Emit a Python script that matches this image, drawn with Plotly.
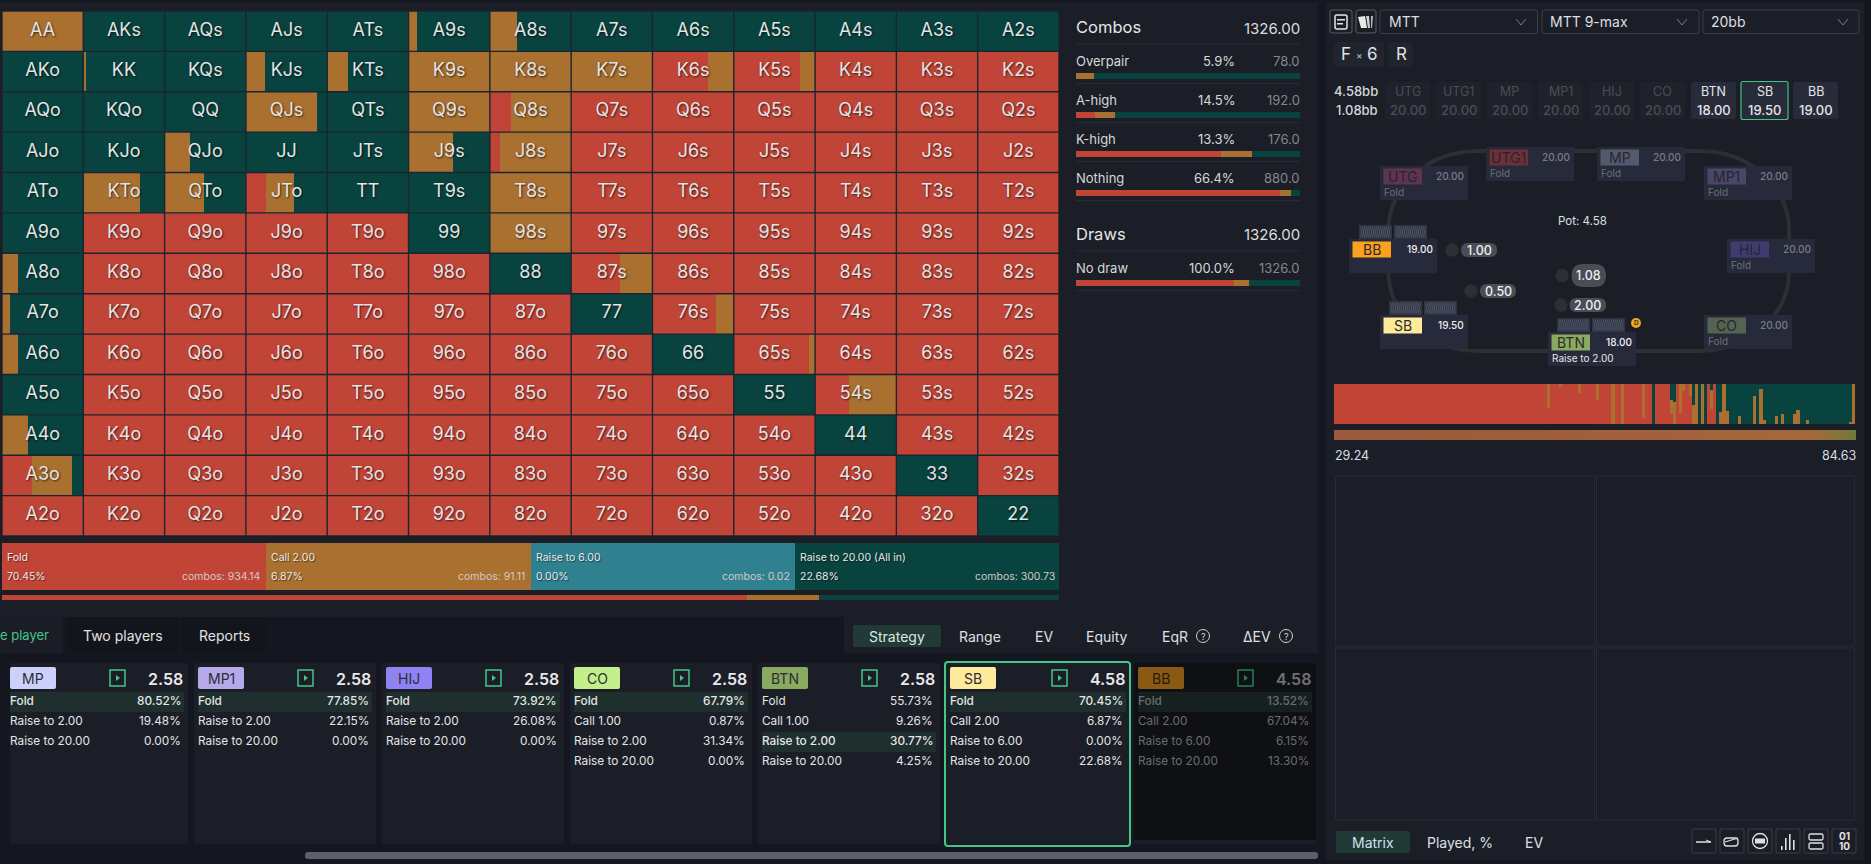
import numpy as np
import plotly.graph_objects as go

W, H = 1871, 864
FONT = "Inter"

# ------------------------------------------------------------------ data
RANKS = ["A", "K", "Q", "J", "T", "9", "8", "7", "6", "5", "4", "3", "2"]

MATRIX_FOLD = [
    [0, 0, 0, 0, 0, 0, 0, 0, 0, 0, 0, 0, 0],
    [0, 0, 0, 0, 0, 0, 0, 0, .68, .82, 1, 1, 1],
    [0, 0, 0, 0, 0, 0, .255, 1, 1, 1, 1, 1, 1],
    [0, 0, 0, 0, 0, 0, .13, 1, 1, 1, 1, 1, 1],
    [0, 0, 0, .245, 0, 0, 0, 1, 1, 1, 1, 1, 1],
    [0, 1, 1, 1, 1, 0, 0, 1, 1, 1, 1, 1, 1],
    [0, 1, 1, 1, 1, 1, 0, .60, 1, 1, 1, 1, 1],
    [0, 1, 1, 1, 1, 1, 1, 0, .78, 1, 1, 1, 1],
    [0, 1, 1, 1, 1, 1, 1, 1, 0, .925, 1, 1, 1],
    [0, 1, 1, 1, 1, 1, 1, 1, 1, 0, .42, 1, 1],
    [0, 1, 1, 1, 1, 1, 1, 1, 1, 1, 0, 1, 1],
    [.37, 1, 1, 1, 1, 1, 1, 1, 1, 1, 1, 0, 1],
    [1, 1, 1, 1, 1, 1, 1, 1, 1, 1, 1, 1, 0],
]
MATRIX_CALL = [
    [1, 0, 0, 0, 0, .11, .33, 0, 0, 0, 0, 0, 0],
    [0, .035, 0, .235, .26, 1, 1, 1, .32, .18, 0, 0, 0],
    [0, 0, 0, .87, 0, 1, .745, 0, 0, 0, 0, 0, 0],
    [0, 0, .315, 0, 0, .55, .87, 0, 0, 0, 0, 0, 0],
    [0, .70, .48, .345, 0, 0, 1, 0, 0, 0, 0, 0, 0],
    [0, 0, 0, 0, 0, 0, 1, 0, 0, 0, 0, 0, 0],
    [.20, 0, 0, 0, 0, 0, 0, .40, 0, 0, 0, 0, 0],
    [.10, 0, 0, 0, 0, 0, 0, 0, .22, 0, 0, 0, 0],
    [.20, 0, 0, 0, 0, 0, 0, 0, 0, .075, 0, 0, 0],
    [0, 0, 0, 0, 0, 0, 0, 0, 0, 0, .58, 0, 0],
    [.315, 0, 0, 0, 0, 0, 0, 0, 0, 0, 0, 0, 0],
    [.49, 0, 0, 0, 0, 0, 0, 0, 0, 0, 0, 0, 0],
    [0, 0, 0, 0, 0, 0, 0, 0, 0, 0, 0, 0, 0],
]

ACTION_NAMES = ["Fold", "Call 2.00", "Raise to 6.00", "Raise to 20.00 (All in)"]
ACTION_PCT = [70.45, 6.87, 0.00, 22.68]
ACTION_COMBOS = [934.14, 91.11, 0.02, 300.73]

COMBO_NAMES = ["Overpair", "A-high", "K-high", "Nothing"]
COMBO_PCT = ["5.9%", "14.5%", "13.3%", "66.4%"]
COMBO_N = ["78.0", "192.0", "176.0", "880.0"]
COMBO_FOLD = [0, .084, .647, .911]
COMBO_CALL = [.08, .091, .139, .05]
COMBO_ALLIN = [.92, .825, .214, .039]
DRAW_FOLD = [.7045]
DRAW_CALL = [.0687]
DRAW_ALLIN = [.2268]

DIST_CALL = ([0] * 69 + [.6] + [0] * 3 + [.075] + [0] * 5 + [.225] + [0] * 5 + [.4] + [0] * 4 + [1] + [0] * 2 + [1]
             + [0] * 6 + [.85] + [0] * 8
             + [.35, .55, 0, .725, .175, 0, .3, .475, 1, 0, 1, 0, 0, .475, 0, 0, .3, 1, .325, 0, 0, 0, .2, 0, 0, 0, 0,
                .7, 0, .875, .1, 0, 0, 0, .2, 0, .25, 0, 0, 0, .25, .35, 0, 0, .1]
             + [0] * 13 + [.05, 1])
DIST_ALLIN = ([0] * 103 + [1] + [0] * 5 + [.4, .45] + [0] * 5
              + [.525, 0, 1, 0, 1, 0, .15, 0, 1, .7, 0, .675]
              + [1, 1, 1, .8, 1, 1, 1, 1, .3, 1, .125, .9, 1, 1, 1, .8, 1, .75, 1, 1, 1, .75, .65, 1, 1, .9]
              + [1] * 13 + [.95, 0])
DIST_FOLD = [round(max(0, 1 - c - a), 4) for c, a in zip(DIST_CALL, DIST_ALLIN)]

PLAYER_NAMES = ["MP", "MP1", "HIJ", "CO", "BTN", "SB", "BB"]
PLAYER_POTS = ["2.58", "2.58", "2.58", "2.58", "2.58", "4.58", "4.58"]
PLAYER_ACTIONS = [
    ["Fold", "Raise to 2.00", "Raise to 20.00"],
    ["Fold", "Raise to 2.00", "Raise to 20.00"],
    ["Fold", "Raise to 2.00", "Raise to 20.00"],
    ["Fold", "Call 1.00", "Raise to 2.00", "Raise to 20.00"],
    ["Fold", "Call 1.00", "Raise to 2.00", "Raise to 20.00"],
    ["Fold", "Call 2.00", "Raise to 6.00", "Raise to 20.00"],
    ["Fold", "Call 2.00", "Raise to 6.00", "Raise to 20.00"],
]
PLAYER_PCTS = [
    ["80.52%", "19.48%", "0.00%"],
    ["77.85%", "22.15%", "0.00%"],
    ["73.92%", "26.08%", "0.00%"],
    ["67.79%", "0.87%", "31.34%", "0.00%"],
    ["55.73%", "9.26%", "30.77%", "4.25%"],
    ["70.45%", "6.87%", "0.00%", "22.68%"],
    ["13.52%", "67.04%", "6.15%", "13.30%"],
]
PLAYER_PICK = [0, 0, 0, 0, 2, 0, 0]

SEAT_NAMES = ["UTG", "UTG1", "MP", "MP1", "HIJ", "CO", "BTN", "SB", "BB"]
SEAT_STACKS = ["20.00", "20.00", "20.00", "20.00", "20.00", "20.00", "18.00", "19.50", "19.00"]
SEAT_ACTIONS = ["Fold", "Fold", "Fold", "Fold", "Fold", "Fold", "Raise to 2.00", "", ""]

# ------------------------------------------------------------------ style
BASE = "#14171f"
PANEL = "#1b1e27"
RED = "#c04537"
AMBER = "#a97030"
TEAL = "#2f8190"
GREEN = "#08433f"
MINT = "#43c787"
SEL = "#213a35"

shapes, annos = [], []


def X(p):
    return p / W


def Y(p):
    return 1 - p / H


def dx(a, b):
    return [a / W, b / W]


def dy(a, b):
    return [1 - b / H, 1 - a / H]


def rect(x0, y0, x1, y1, fill=None, line=None, lw=1, r=0, layer="below"):
    if r:
        p = (f"M{X(x0 + r)},{Y(y0)} L{X(x1 - r)},{Y(y0)} Q{X(x1)},{Y(y0)} {X(x1)},{Y(y0 + r)} "
             f"L{X(x1)},{Y(y1 - r)} Q{X(x1)},{Y(y1)} {X(x1 - r)},{Y(y1)} "
             f"L{X(x0 + r)},{Y(y1)} Q{X(x0)},{Y(y1)} {X(x0)},{Y(y1 - r)} "
             f"L{X(x0)},{Y(y0 + r)} Q{X(x0)},{Y(y0)} {X(x0 + r)},{Y(y0)} Z")
        s = dict(type="path", path=p)
    else:
        s = dict(type="rect", x0=X(x0), x1=X(x1), y0=Y(y0), y1=Y(y1))
    s.update(xref="paper", yref="paper", layer=layer,
             fillcolor=fill if fill else "rgba(0,0,0,0)",
             line=dict(color=line if line else "rgba(0,0,0,0)", width=lw if line else 0))
    shapes.append(s)


def poly(points, line=None, lw=1, fill=None, close=False):
    p = "M" + " L".join(f"{X(a)},{Y(b)}" for a, b in points) + (" Z" if close else "")
    shapes.append(dict(type="path", path=p, xref="paper", yref="paper", layer="below",
                       fillcolor=fill if fill else "rgba(0,0,0,0)",
                       line=dict(color=line if line else "rgba(0,0,0,0)", width=lw if line else 0)))


def circle(cx, cy, r, fill=None, line=None, lw=1):
    shapes.append(dict(type="circle", xref="paper", yref="paper", layer="below",
                       x0=X(cx - r), x1=X(cx + r), y0=Y(cy - r), y1=Y(cy + r),
                       fillcolor=fill if fill else "rgba(0,0,0,0)",
                       line=dict(color=line if line else "rgba(0,0,0,0)", width=lw if line else 0)))


def T(x, y, text, size=13, color="#e0e0e0", anchor="left", weight=None, shadow=None):
    f = dict(family=FONT, size=size, color=color)
    if weight:
        f["weight"] = weight
    if shadow:
        f["shadow"] = shadow
    annos.append(dict(x=X(x), y=Y(y), xref="paper", yref="paper", text=text, showarrow=False,
                      xanchor=anchor, yanchor="middle", font=f, borderpad=0, borderwidth=0))


# ------------------------------------------------------------------ panels
rect(0, 2, 1318, 617, PANEL)
rect(1326, 2, 1864, 860, PANEL)
rect(0, 617, 63, 653, "#1a1d26")
rect(67, 617, 178, 653, "#12151c")
rect(182, 617, 266, 653, "#12151c")
rect(844, 617, 1318, 653, PANEL)

# ------------------------------------------------------------------ traces
fig = go.Figure()

# matrix
labels, lx, ly = [], [], []
for r in range(13):
    for c in range(13):
        if r == c:
            labels.append(RANKS[r] * 2)
        elif c > r:
            labels.append(RANKS[r] + RANKS[c] + "s")
        else:
            labels.append(RANKS[c] + RANKS[r] + "o")
        lx.append(c + .5)
        ly.append(r + .5)

for kind, color in (("fold", RED), ("call", AMBER), ("allin", GREEN)):
    xs, ys, bases = [], [], []
    for r in range(13):
        for c in range(13):
            f, k = MATRIX_FOLD[r][c], MATRIX_CALL[r][c]
            a = max(0, 1 - f - k)
            v, b = {"fold": (f, c), "call": (k, c + f), "allin": (a, c + f + k)}[kind]
            if v > 1e-6:
                xs.append(v)
                ys.append(r + .5)
                bases.append(b)
    fig.add_trace(go.Bar(x=xs, y=ys, base=bases, orientation="h", width=1, hoverinfo="skip", showlegend=False,
                         marker=dict(color=color, line=dict(width=0)), xaxis="x", yaxis="y"))

fig.add_trace(go.Scatter(x=lx, y=ly, mode="text", text=labels, hoverinfo="skip", showlegend=False,
                         textposition="middle center",
                         textfont=dict(family=FONT, size=18, color="#e4e4e6",
                                       shadow="1px 1px 2px rgba(0,0,0,0.65)"),
                         xaxis="x", yaxis="y"))

# action boxes
box_colors = [RED, AMBER, TEAL, GREEN]
for i, c in enumerate(box_colors):
    fig.add_trace(go.Bar(x=[1], y=[0], base=[i], orientation="h", width=1, hoverinfo="skip", showlegend=False,
                         marker=dict(color=c, line=dict(width=0)), xaxis="x2", yaxis="y2"))

# thin strategy bar
cum = 0
for p, c in zip(ACTION_PCT, box_colors):
    fig.add_trace(go.Bar(x=[p], y=[0], base=[cum], orientation="h", width=1, hoverinfo="skip", showlegend=False,
                         marker=dict(color=c, line=dict(width=0)), xaxis="x3", yaxis="y3"))
    cum += p


def stack_h(fold, call, allin, xa, ya):
    n = len(fold)
    rows = list(range(n))
    fig.add_trace(go.Bar(x=fold, y=rows, base=[0] * n, orientation="h", width=.154, hoverinfo="skip",
                         showlegend=False, marker=dict(color=RED, line=dict(width=0)), xaxis=xa, yaxis=ya))
    fig.add_trace(go.Bar(x=call, y=rows, base=fold, orientation="h", width=.154, hoverinfo="skip",
                         showlegend=False, marker=dict(color=AMBER, line=dict(width=0)), xaxis=xa, yaxis=ya))
    fig.add_trace(go.Bar(x=allin, y=rows, base=[a + b for a, b in zip(fold, call)], orientation="h", width=.154,
                         hoverinfo="skip", showlegend=False, marker=dict(color=GREEN, line=dict(width=0)),
                         xaxis=xa, yaxis=ya))


stack_h(COMBO_FOLD, COMBO_CALL, COMBO_ALLIN, "x4", "y4")
stack_h(DRAW_FOLD, DRAW_CALL, DRAW_ALLIN, "x4", "y5")

# distribution
idx = list(range(len(DIST_FOLD)))
fig.add_trace(go.Bar(x=idx, y=DIST_FOLD, base=[0] * len(idx), width=1, hoverinfo="skip", showlegend=False,
                     marker=dict(color=RED, line=dict(width=0)), xaxis="x5", yaxis="y6"))
fig.add_trace(go.Bar(x=idx, y=DIST_CALL, base=DIST_FOLD, width=1, hoverinfo="skip", showlegend=False,
                     marker=dict(color=AMBER, line=dict(width=0)), xaxis="x5", yaxis="y6"))
fig.add_trace(go.Bar(x=idx, y=DIST_ALLIN, base=[a + b for a, b in zip(DIST_FOLD, DIST_CALL)], width=1,
                     hoverinfo="skip", showlegend=False, marker=dict(color=GREEN, line=dict(width=0)),
                     xaxis="x5", yaxis="y6"))

# gradient strip
fig.add_trace(go.Heatmap(z=[list(np.linspace(0, 1, 260))], showscale=False, hoverinfo="skip", zmin=0, zmax=1,
                         colorscale=[[0, "#9a5a3c"], [.6, "#a2603b"], [.92, "#a5683a"], [1, "#6f7a3b"]],
                         xaxis="x6", yaxis="y7"))

# ------------------------------------------------------------------ matrix overlays
for i in range(14):
    shapes.append(dict(type="line", xref="x", yref="y", x0=i, x1=i, y0=0, y1=13, layer="above",
                       line=dict(color="#1b2430", width=1.4)))
    shapes.append(dict(type="line", xref="x", yref="y", x0=0, x1=13, y0=i, y1=i, layer="above",
                       line=dict(color="#1b2430", width=1.4)))

# action box text
text_left = [7, 271, 536, 800]
text_right = [261, 525, 790, 1055]
for i in range(4):
    s = "1px 1px 1px rgba(0,0,0,0.5)"
    T(text_left[i], 557, ACTION_NAMES[i], 10.5, "#eceaea", shadow=s)
    T(text_left[i], 576, f"{ACTION_PCT[i]:.2f}%", 10.5, "#eceaea", shadow=s)
    T(text_right[i], 576, f"combos: {ACTION_COMBOS[i]:.2f}", 10.5, "#d6c9c6", "right")

# ------------------------------------------------------------------ stats panel
STX0, STX1, STX2 = 1076, 1235, 1300
T(STX0, 27, "Combos", 16.5, "#e6e6e6")
T(STX2, 28, "1326.00", 15, "#dcdcdc", "right")
rect(STX0, 43.5, STX2, 44.5, "#262a33")
for i, yy in enumerate([61, 100, 139, 178]):
    T(STX0, yy, COMBO_NAMES[i], 13, "#d8d8d8")
    T(STX1, yy, COMBO_PCT[i], 13, "#d8d8d8", "right")
    T(STX2, yy, COMBO_N[i], 13, "#85878c", "right")
    rect(STX0, yy + 22, STX2, yy + 23, "#262a33")
T(STX0, 234, "Draws", 16.5, "#e6e6e6")
T(STX2, 235, "1326.00", 15, "#dcdcdc", "right")
rect(STX0, 250.5, STX2, 251.5, "#262a33")
T(STX0, 268, "No draw", 13, "#d8d8d8")
T(STX1, 268, "100.0%", 13, "#d8d8d8", "right")
T(STX2, 268, "1326.0", 13, "#85878c", "right")
rect(STX0, 290, STX2, 291, "#262a33")

# ------------------------------------------------------------------ tabs
T(49, 635, "e player", 13, MINT, "right")
T(123, 635, "Two players", 14, "#e2e2e2", "center")
T(224, 635, "Reports", 14, "#e2e2e2", "center")
rect(853, 625, 941, 647, SEL, r=2)
T(897, 636, "Strategy", 14, "#dfe6e4", "center")
T(980, 636, "Range", 14, "#dfe0e2", "center")
T(1044, 636, "EV", 14, "#dfe0e2", "center")
T(1107, 636, "Equity", 14, "#dfe0e2", "center")
T(1175, 636, "EqR", 14, "#dfe0e2", "center")
T(1257, 636, "ΔEV", 14, "#dfe0e2", "center")
for cx in (1203, 1286):
    circle(cx, 636, 6.5, line="#d0d0d0", lw=1)
    T(cx, 636, "?", 9, "#d8d8d8", "center")

# ------------------------------------------------------------------ player cards
card_l = [10, 194, 382, 570, 758, 945, 1134]
card_r = [188, 376, 564, 752, 940, 1130, 1316]
tag_l = [10, 198, 386, 574, 762, 950, 1138]
tag_c = ["#ccd0fb", "#b5a9ea", "#8f83f4", "#c3f08b", "#8aaa60", "#feea9b", "#8a5a15"]
for i, name in enumerate(PLAYER_NAMES):
    dim = name == "BB"
    rect(card_l[i], 663, card_r[i], 844, PANEL, r=2)
    if dim:
        rect(card_l[i], 663, card_r[i], 840, "#0e1014")
    if name == "SB":
        rect(card_l[i], 662, card_r[i], 846, None, MINT, 2, r=3)
    tr = card_r[i] - 5
    hl = "#16211f" if dim else "#1e2f2d"
    rect(tag_l[i], 667, tag_l[i] + 46, 689, tag_c[i], r=2)
    T(tag_l[i] + 23, 678, name, 14, "#2c2c38" if not dim else "#241a08", "center")
    icon = "#2a7d56" if dim else MINT
    ix1 = card_r[i] - 63
    rect(ix1 - 15, 670, ix1, 686, None, icon, 1.5)
    poly([(ix1 - 9, 675), (ix1 - 9, 681), (ix1 - 5, 678)], fill=icon, close=True)
    T(tr, 679, PLAYER_POTS[i], 16, "#6f7174" if dim else "#e8e8ea", "right", weight=600)
    for j, (a, p) in enumerate(zip(PLAYER_ACTIONS[i], PLAYER_PCTS[i])):
        yy = 701 + j * 20
        pick = j == PLAYER_PICK[i]
        if pick:
            rect(tag_l[i], yy - 9, card_r[i] - 4, yy + 11, hl)
        col = "#6a6d70" if dim else "#e4e5e6"
        T(tag_l[i], yy, a, 11.8, col, weight=500 if pick else None)
        T(card_r[i] - 7, yy, p, 11.8, col, "right", weight=500 if pick else None)
rect(305, 852, 1318, 859, "#5a616b", r=3)

# ------------------------------------------------------------------ right panel header
rect(1330, 10, 1352, 33, None, "#5a5d63", 1, r=2)
rect(1335, 15, 1347, 29, None, "#e6e6e6", 1.5, r=2)
rect(1337, 19, 1345, 20.5, "#e6e6e6")
rect(1337, 23, 1343, 24.5, "#e6e6e6")
rect(1356, 10, 1376, 33, None, "#5a5d63", 1, r=2)
poly([(1358, 17), (1365, 16), (1367, 28), (1361, 28)], fill="#e8e8e8", close=True)
poly([(1366, 16), (1369, 16), (1370, 28), (1368, 28)], fill="#d0d0d0", close=True)
poly([(1371, 16), (1373, 16), (1372, 28), (1371, 28)], fill="#b8b8b8", close=True)
dd = [(1380, 1537.5, 1388.5, 1521, "MTT"), (1542, 1699, 1550, 1682, "MTT 9-max"), (1703, 1859, 1711, 1843, "20bb")]
for a, b, tx, ch, txt in dd:
    rect(a, 10, b, 33.5, None, "#3b3e46", 1, r=2)
    T(tx, 22, txt, 14, "#dedfe2")
    poly([(ch - 5, 19), (ch, 25), (ch + 5, 19)], line="#7a7d85", lw=1)
rect(1334, 42, 1384, 67, "#20242e", r=2)
rect(1388.5, 42, 1413, 67, "#20242e", r=2)
T(1346, 54, "F", 17, "#e2e2e2", "center")
T(1359, 55, "×", 10, "#c8c8c8", "center")
T(1372, 54, "6", 17, "#e2e2e2", "center")
T(1401, 54, "R", 17, "#e2e2e2", "center")

T(1378, 91, "4.58bb", 13, "#d5d6d8", "right", weight=500)
T(1378, 110, "1.08bb", 13, "#d5d6d8", "right", weight=500)
box_x = [1385, 1436, 1487, 1538, 1589, 1640, 1691, 1742, 1793]
for i, name in enumerate(SEAT_NAMES):
    active = name in ("BTN", "SB", "BB")
    rect(box_x[i], 82, box_x[i] + 45, 119, "#282c3a" if active else "#1f222b", r=2)
    col = "#e4e5e8" if active else "#4a4d56"
    T(box_x[i] + 22.5, 91, name, 12.5, col, "center")
    T(box_x[i] + 22.5, 110, SEAT_STACKS[i], 13, col, "center", weight=500)
    if name == "SB":
        rect(box_x[i] - 1, 81.5, box_x[i] + 46, 119.5, None, MINT, 1.2, r=2)

# ------------------------------------------------------------------ table ring
rx, ry = 90, 78
x0r, x1r, y0r, y1r = 1388.5, 1789, 151, 351
ring = (f"M{X(x0r + rx)},{Y(y0r)} L{X(x1r - rx)},{Y(y0r)} "
        f"C{X(x1r - rx * .4)},{Y(y0r)} {X(x1r)},{Y(y0r + ry * .5)} {X(x1r)},{Y(y0r + ry)} "
        f"L{X(x1r)},{Y(y1r - ry)} C{X(x1r)},{Y(y1r - ry * .5)} {X(x1r - rx * .4)},{Y(y1r)} {X(x1r - rx)},{Y(y1r)} "
        f"L{X(x0r + rx)},{Y(y1r)} C{X(x0r + rx * .4)},{Y(y1r)} {X(x0r)},{Y(y1r - ry * .5)} {X(x0r)},{Y(y1r - ry)} "
        f"L{X(x0r)},{Y(y0r + ry)} C{X(x0r)},{Y(y0r + ry * .5)} {X(x0r + rx * .4)},{Y(y0r)} {X(x0r + rx)},{Y(y0r)} Z")
shapes.append(dict(type="path", path=ring, xref="paper", yref="paper", layer="below",
                   fillcolor="rgba(0,0,0,0)", line=dict(color="#2e2e33", width=4)))

seat_x = [1380, 1486, 1597, 1704, 1727, 1704, 1548, 1380, 1349]
seat_y = [166, 147, 147, 166, 239, 315, 332, 315, 239]
seat_tag = ["#5f3450", "#6f2f3a", "#55596e", "#4a4668", "#403c72", "#556450", "#8aaa60", "#feea9b", "#fca11e"]


def hole_cards(x, y):
    for off in (0, 35):
        rect(x + off, y, x + off + 33, y + 14, "#2f3342")
        for phase in (0, 1):
            pts = []
            for k in range(16):
                pts.append((x + off + 1.5 + k * 2, y + (1.5 if (k + phase) % 2 == 0 else 12.5)))
            poly(pts, line="#4e5566", lw=.7)


hole_cards(1359, 225)
hole_cards(1389, 301)
hole_cards(1557, 318)

for i, name in enumerate(SEAT_NAMES):
    active = name in ("BTN", "SB", "BB")
    sx, sy = seat_x[i], seat_y[i]
    rect(sx, sy, sx + 88, sy + 34, "#262a3a")
    rect(sx + 3.5, sy + 2.5, sx + 42, sy + 18.5, seat_tag[i])
    T(sx + 22.7, sy + 10.5, name, 14, "#2a2a30" if active else "#27252f", "center")
    T(sx + 84, sy + 10, SEAT_STACKS[i], 10, "#f0f0f0" if active else "#7a7c82", "right", weight=500)
    if SEAT_ACTIONS[i]:
        T(sx + 3.5, sy + 26, SEAT_ACTIONS[i], 10, "#e8e8e8" if active else "#6e7078")

circle(1636, 323, 5, fill="#e8a92c")
T(1636, 323, "D", 6.5, "#4a3508", "center", weight=700)
T(1582, 221, "Pot: 4.58", 11.5, "#d8e2e4", "center")
chip_l = [1461, 1480, 1571.6, 1569.5]
chip_r = [1497, 1516, 1606, 1606]
chip_t = [243, 284, 264, 298]
chip_b = [257, 298, 287, 312]
chip_cx = [1452, 1471, 1562, 1561]
chip_txt = ["1.00", "0.50", "1.08", "2.00"]
for i in range(4):
    circle(chip_cx[i], (chip_t[i] + chip_b[i]) / 2, 6.7, fill="#2d2f35")
    rect(chip_l[i], chip_t[i], chip_r[i], chip_b[i], "#4a4d55", r=(chip_b[i] - chip_t[i]) / 2)
    T((chip_l[i] + chip_r[i]) / 2, (chip_t[i] + chip_b[i]) / 2, chip_txt[i], 12.5, "#eeeeee", "center", weight=500)

T(1335, 455, "29.24", 12.5, "#d8dde5")
T(1856, 455, "84.63", 12.5, "#d8dde5", "right")

# ------------------------------------------------------------------ lower right
for a, b, c, d in [(1335.5, 476, 1594.5, 646), (1596.5, 476, 1854.5, 646),
                   (1335.5, 648, 1594.5, 820), (1596.5, 648, 1854.5, 820)]:
    rect(a, b, c, d, None, "#272a33", 1)
rect(1336, 831, 1410, 853, SEL, r=2)
T(1373, 842, "Matrix", 14, "#cfe0ea", "center")
T(1459.5, 842, "Played, %", 14, "#dfe0e4", "center")
T(1534, 842, "EV", 14, "#dfe0e4", "center")
ib = [1692, 1720, 1748, 1776, 1804, 1832]
for a in ib:
    rect(a, 829, a + 24, 853, None, "#3a3d45", 1, r=1)
c0 = "#e0e0e0"
poly([(1696, 842), (1711, 842)], line=c0, lw=1.5)
poly([(1706, 840), (1711, 842)], line=c0, lw=1)
rect(1724, 838, 1738, 846, None, c0, 1.3, r=3)
poly([(1725, 842), (1738, 838)], line=c0, lw=1.2)
circle(1760, 841, 7.5, line=c0, lw=1.3)
rect(1755, 838.5, 1765, 843.5, c0)
for off, hh in zip((1781, 1785, 1789, 1793), (4, 12, 16, 10)):
    rect(off, 850 - hh, off + 1.6, 850, c0)
rect(1809, 834, 1823, 840, None, c0, 1.3, r=1.5)
rect(1809, 843, 1823, 849, None, c0, 1.3, r=1.5)
T(1844, 836, "01", 10, c0, "center", weight=700)
T(1844, 846, "10", 10, c0, "center", weight=700)


# ------------------------------------------------------------------ layout
def ax(domain, rng, anchor):
    return dict(domain=domain, range=rng, anchor=anchor, visible=False, showgrid=False,
                zeroline=False, fixedrange=True)


fig.update_layout(
    width=W, height=H, autosize=False, margin=dict(l=0, r=0, t=0, b=0, pad=0),
    paper_bgcolor=BASE, plot_bgcolor="rgba(0,0,0,0)", barmode="overlay", bargap=0,
    showlegend=False, hovermode=False, font=dict(family=FONT),
    shapes=shapes, annotations=annos,
    xaxis=ax(dx(2, 1059), [0, 13], "y"),
    yaxis=ax(dy(11, 536), [13, 0], "x"),
    xaxis2=ax(dx(2, 1059), [0, 4], "y2"),
    yaxis2=ax(dy(543, 590), [-.5, .5], "x2"),
    xaxis3=ax(dx(2, 1059), [0, 100], "y3"),
    yaxis3=ax(dy(595, 600), [-.5, .5], "x3"),
    xaxis4=ax(dx(1076, 1300), [0, 1], "y4"),
    yaxis4=ax(dy(55.5, 211.5), [3.5, -.5], "x4"),
    yaxis5=ax(dy(262.5, 301.5), [.5, -.5], "x4"),
    xaxis5=ax(dx(1334, 1855), [-.5, 168.5], "y6"),
    yaxis6=ax(dy(384, 424), [0, 1], "x5"),
    xaxis6=ax(dx(1334, 1856), [-.5, 259.5], "y7"),
    yaxis7=ax(dy(430, 440), [-.5, .5], "x6"),
)

fig.write_html("out.html", config=dict(displayModeBar=False),
               post_script="document.body.style.margin='0';document.body.style.background='#14171f';"
                           "document.documentElement.style.overflow='hidden';")
